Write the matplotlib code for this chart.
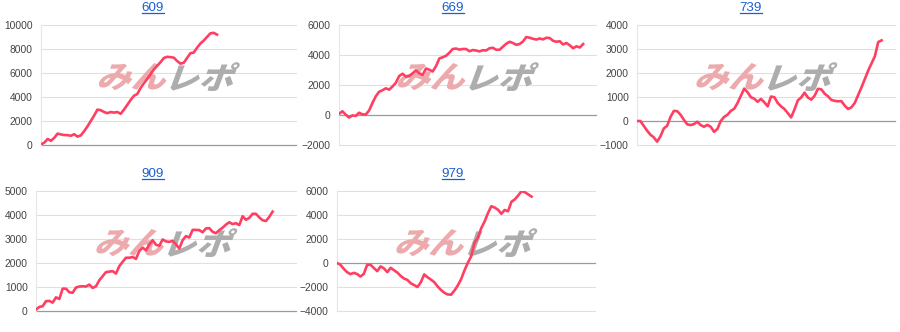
import matplotlib
matplotlib.use("Agg")
import matplotlib.pyplot as plt
from matplotlib.textpath import TextPath
from matplotlib.patches import PathPatch
from matplotlib.font_manager import FontProperties
from matplotlib.transforms import Affine2D

# --- data ---
titles = ["609", "669", "739", "909", "979"]

s609 = [50, 200, 500, 350, 600, 950, 880, 830, 820, 770, 900, 700, 800, 1150, 1550,
        2000, 2450, 2950, 2900, 2750, 2650, 2750, 2700, 2750, 2600, 2950, 3350, 3750,
        4100, 4250, 4750, 5150, 5500, 5900, 6300, 6600, 6900, 7250, 7350, 7320, 7280,
        7000, 6780, 6850, 7250, 7650, 7700, 8100, 8450, 8700, 9000, 9300, 9350, 9200]

s669 = [70, 250, 30, -170, -30, -60, 150, 40, 30, 300, 800, 1250, 1550, 1650, 1780,
        1690, 1900, 2150, 2600, 2750, 2560, 2600, 2780, 2980, 2780, 2670, 3100, 3020,
        2900, 3250, 3770, 3850, 3950, 4150, 4400, 4430, 4360, 4400, 4400, 4250, 4330,
        4300, 4240, 4320, 4300, 4450, 4480, 4350, 4350, 4550, 4750, 4880, 4800, 4680,
        4730, 4900, 5200, 5150, 5080, 5030, 5100, 5040, 5150, 5130, 4950, 4880, 4920,
        4700, 4800, 4650, 4450, 4580, 4500, 4730]

s739 = [0, 0, -200, -400, -570, -680, -860, -640, -310, -200, 170, 420, 410, 260, 50,
        -140, -170, -130, -30, -170, -240, -160, -240, -450, -330, 0, 170, 260, 420, 510,
        750, 1050, 1350, 1200, 990, 930, 800, 920, 780, 610, 1020, 990, 750, 610, 500,
        330, 150, 480, 860, 980, 1180, 980, 890, 1050, 1340, 1320, 1140, 1030, 880, 840,
        820, 830, 640, 500, 570, 750, 1080, 1400, 1750, 2100, 2400, 2700, 3290, 3360]

s909 = [60, 170, 200, 410, 420, 350, 570, 500, 930, 930, 780, 760, 980, 1020, 1030,
        1020, 1100, 960, 1030, 1280, 1450, 1620, 1640, 1660, 1560, 1870, 2050, 2220,
        2220, 2250, 2170, 2500, 2640, 2530, 2770, 2950, 2760, 2720, 2980, 2900, 2880,
        2920, 2780, 2600, 2950, 3120, 3060, 3380, 3380, 3370, 3280, 3440, 3450, 3300,
        3240, 3370, 3470, 3600, 3700, 3620, 3660, 3580, 3950, 3800, 3880, 4050, 4050,
        3900, 3780, 3750, 3920, 4140]

s979 = [0, -140, -480, -760, -930, -820, -920, -1130, -900, -150, -150, -420, -680,
        -280, -450, -760, -400, -600, -800, -1080, -1300, -1410, -1690, -1840, -2000,
        -1600, -950, -1190, -1380, -1600, -1950, -2250, -2480, -2620, -2640, -2300,
        -1880, -1350, -620, 10, 550, 1690, 2110, 2900, 3450, 4150, 4730, 4620, 4440,
        4100, 4420, 4310, 5100, 5300, 5620, 5980, 5900, 5720, 5530]

series = [s609, s669, s739, s909, s979]
y_ranges = [(0, 10000, 2000), (-2000, 6000, 2000), (-1000, 4000, 1000),
            (0, 5000, 1000), (-4000, 6000, 2000)]
# share of the x axis that the line covers
x_fill = [0.69, 0.95, 0.948, 0.91, 0.754]

# axes boxes in pixels: left, top, right, bottom
boxes = [(41, 25, 296, 145), (339, 25, 596, 145), (637, 25, 895, 145),
         (36, 191, 296, 311), (337, 191, 595, 311)]
title_pos = [(153, 8), (453, 8), (751, 8), (153, 174), (453, 174)]

W, H = 900, 332
fig = plt.figure(figsize=(W / 100, H / 100), dpi=100)
plt.rcParams['font.family'] = ['Liberation Sans', 'DejaVu Sans']

line_color = "#ff3f62"
wm_font = FontProperties(family="Noto Sans CJK JP", weight="heavy")

axes = []
for i, vals in enumerate(series):
    l, t, r, b = boxes[i]
    ax = fig.add_axes([l / W, 1 - b / H, (r - l) / W, (b - t) / H])
    axes.append(ax)
    lo, hi, step = y_ranges[i]
    n = len(vals)
    ax.plot(range(n), vals, color=line_color, lw=1.9, zorder=3, solid_joinstyle="round")
    ax.set_xlim(0, (n - 1) / x_fill[i])
    ax.set_ylim(lo, hi)
    ticks = list(range(lo, hi + 1, step))
    ax.set_yticks(ticks)
    ax.set_xticks([])
    for v in ticks:
        gl = ax.axhline(v, color="#9a9a9a" if v == 0 else "#e0e0e0",
                        lw=0.9 if v == 0 else 0.8, zorder=2 if v == 0 else 1)
        gl.set_clip_on(False)
    for s in ["top", "right", "bottom"]:
        ax.spines[s].set_visible(False)
    ax.spines["left"].set_color("#e6e6e6")
    ax.spines["left"].set_linewidth(0.8)
    ax.tick_params(axis="y", length=0, pad=6, labelsize=7.4, labelcolor="#444444")

fig.canvas.draw()

# watermark "みんレポ" (skewed), placed in the middle of every panel
for ax in axes:
    cx, cy = ax.transAxes.transform((0.5, 0.57))
    parts = [("みん", "#ecaaad"), ("レポ", "#adadad")]
    paths = [TextPath((0, 0), txt, size=22, prop=wm_font) for txt, _ in parts]
    widths = [p.get_extents().width for p in paths]
    total = sum(widths) + 4
    x0 = -total / 2
    for p, (txt, col), w in zip(paths, parts, widths):
        ext = p.get_extents()
        tr = (Affine2D().translate(x0 - ext.x0, -ext.y0 - ext.height / 2)
              .skew_deg(18, 0).scale(100 / 72. * 1.13, 100 / 72.).translate(cx, cy))
        patch = PathPatch(p, facecolor=col, edgecolor="none", transform=tr, zorder=2.5)
        patch.set_clip_on(False)
        ax.add_artist(patch)
        x0 += w + 4

# titles with underline
renderer = fig.canvas.get_renderer()
for (tx, ty), name in zip(title_pos, titles):
    txt = fig.text(tx / W, 1 - ty / H, name, ha="center", va="center",
                   fontsize=9.6, color="#1a5fd0")
    bb = txt.get_window_extent(renderer=renderer)
    uy = bb.y0 + 1.0
    fig.add_artist(plt.Line2D([bb.x0 / W, bb.x1 / W], [uy / H, uy / H],
                              color="#1a5fd0", lw=0.9, transform=fig.transFigure))

fig.savefig("out.png", dpi=100)
